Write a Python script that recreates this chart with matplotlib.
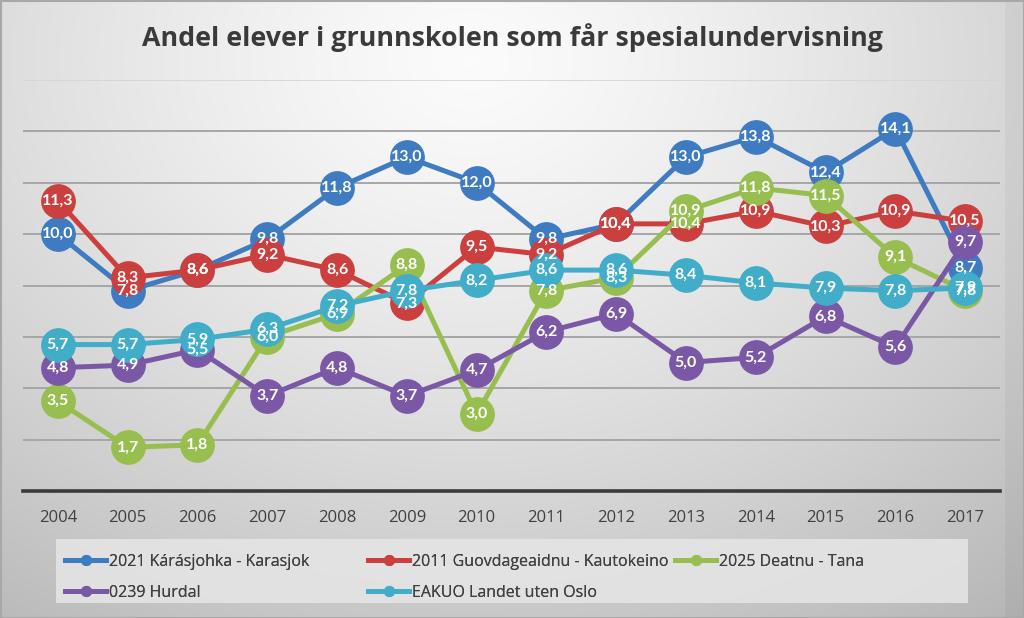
import numpy as np
import matplotlib
matplotlib.use("Agg")
import matplotlib.pyplot as plt
from matplotlib.lines import Line2D
from matplotlib.patches import Rectangle

years = ["2004", "2005", "2006", "2007", "2008", "2009", "2010",
         "2011", "2012", "2013", "2014", "2015", "2016", "2017"]

karasjok = [10.0, 7.8, 8.6, 9.8, 11.8, 13.0, 12.0, 9.8, 10.4, 13.0, 13.8, 12.4, 14.1, 8.7]
kautokeino = [11.3, 8.3, 8.6, 9.2, 8.6, 7.3, 9.5, 9.2, 10.4, 10.4, 10.9, 10.3, 10.9, 10.5]
tana = [3.5, 1.7, 1.8, 6.0, 6.9, 8.8, 3.0, 7.8, 8.3, 10.9, 11.8, 11.5, 9.1, 7.8]
hurdal = [4.8, 4.9, 5.5, 3.7, 4.8, 3.7, 4.7, 6.2, 6.9, 5.0, 5.2, 6.8, 5.6, 9.7]
landet = [5.7, 5.7, 5.9, 6.3, 7.2, 7.8, 8.2, 8.6, 8.6, 8.4, 8.1, 7.9, 7.8, 7.9]

series_names = ["2021 Kárásjohka - Karasjok", "2011 Guovdageaidnu - Kautokeino",
                "2025 Deatnu - Tana", "0239 Hurdal", "EAKUO Landet uten Oslo"]
series_values = [karasjok, kautokeino, tana, hurdal, landet]
colors = ["#3E7BC1", "#CC3F3F", "#97BE4F", "#7B58A6", "#41ADC8"]

title = "Andel elever i grunnskolen som får spesialundervisning"

W, H = 1024, 618
fig = plt.figure(figsize=(W / 100, H / 100), dpi=100)

# background gradient
bg = fig.add_axes([0, 0, 1, 1], zorder=-10)
yy, xx = np.mgrid[0:H, 0:W]
d = np.sqrt(((xx - 470) / 760.0) ** 2 + ((yy - 60) / 600.0) ** 2)
val = 0.985 - 0.22 * np.clip(d, 0, 1.3) ** 1.3
val[:, 1005:] -= 0.03
img = np.dstack([val, val, val])
bg.imshow(img, extent=[0, W, H, 0], aspect="auto")
bg.set_xlim(0, W)
bg.set_ylim(H, 0)
bg.axis("off")
bg.add_patch(Rectangle((0.5, 0.5), W - 1, H - 1, fill=False, ec="#A8A8A8", lw=1.5))
# legend background box
bg.add_patch(Rectangle((56, 539), 912, 64, fc="#E6E6E6", ec="none", alpha=0.85))

ax = fig.add_axes([23 / W, (H - 491) / H, 977 / W, 411 / H])
ax.patch.set_alpha(0)
x = np.arange(len(years))
ax.set_xlim(-0.5, len(years) - 0.5)
ax.set_ylim(0, 16)
for gv in [2, 4, 6, 8, 10, 12, 14]:
    ax.axhline(gv, color="#A6A6A6", lw=1.4, zorder=1)
ax.axhline(16, color="#D4D4D4", lw=1.2, zorder=1)
for s in ["top", "right", "left"]:
    ax.spines[s].set_visible(False)
ax.spines["bottom"].set_color("#3A3A3A")
ax.spines["bottom"].set_linewidth(2.6)
ax.set_yticks([])
ax.set_xticks(x)
ax.set_xticklabels(years, fontsize=12, color="#404040", family=["Open Sans", "DejaVu Sans"])
ax.tick_params(axis="x", length=0, pad=14)

for i, (vals, c) in enumerate(zip(series_values, colors)):
    ax.plot(x, vals, color=c, lw=3.6, marker="o", markersize=24,
            markerfacecolor=c, markeredgecolor=c, zorder=3 + i, solid_capstyle="round")

for i, vals in enumerate(series_values):
    for xi, v in zip(x, vals):
        ax.text(xi, v, f"{v:.1f}".replace(".", ","), ha="center", va="center",
                color="white", fontsize=11.5, fontweight="bold",
                family=["Lato", "DejaVu Sans"], zorder=20)

fig.text(0.5, 1 - 38 / H, title, ha="center", va="center", fontsize=19.3,
         fontweight="bold", color="#3A3A3A", family=["Open Sans", "DejaVu Sans"])

handles = [Line2D([0], [0], color=c, lw=3.6, marker="o", markersize=7) for c in colors]
columns = [([0, 3], 52), ([1, 4], 355), ([2], 662)]
for idxs, xpx in columns:
    leg = fig.legend([handles[k] for k in idxs], [series_names[k] for k in idxs],
                     ncol=1, loc="upper left", bbox_to_anchor=(xpx / W, 1 - 541 / H),
                     frameon=False, handlelength=2.6, handletextpad=0.15,
                     labelspacing=0.95, borderpad=0.3,
                     prop={"family": ["Open Sans", "DejaVu Sans"], "size": 11.5})
    for t in leg.get_texts():
        t.set_color("#404040")
    fig.add_artist(leg)

fig.savefig("out.png", dpi=100)
